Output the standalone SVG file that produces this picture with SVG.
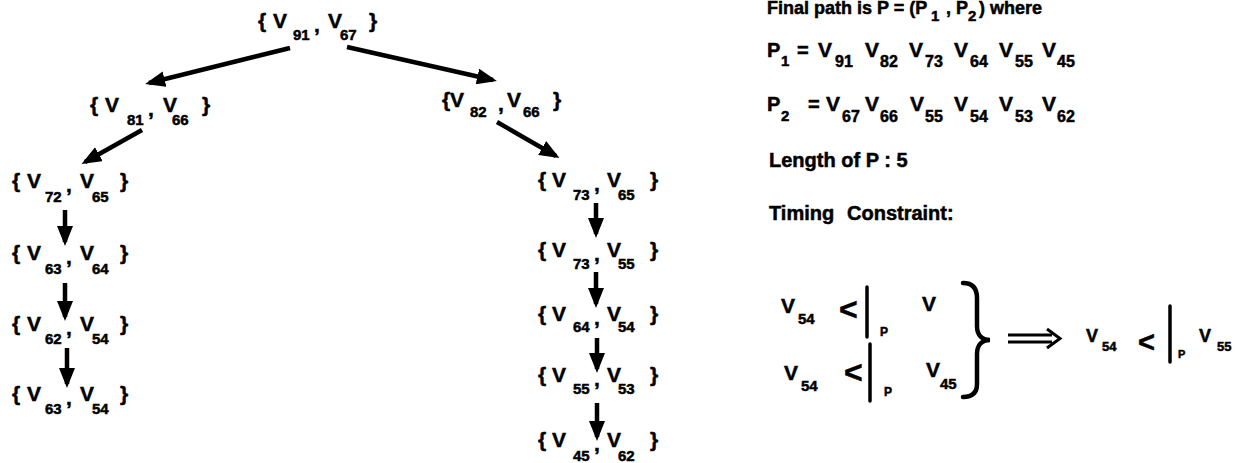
<svg xmlns="http://www.w3.org/2000/svg" width="1246" height="463" viewBox="0 0 1246 463">
<style>
text{font-family:"Liberation Sans",Arial,Helvetica,sans-serif;font-weight:bold;fill:#000;stroke:#000;stroke-width:0.5}
.m{font-size:21px}
.s{font-size:15px}
.r{font-size:20px}
.rs{font-size:16px}
.lt{font-size:32px}
.pp{font-size:12px}
.edge{stroke:#000;stroke-width:4.5;fill:none;marker-end:url(#ah)}
.bar{stroke:#000;stroke-width:3.5;stroke-linecap:round}
</style>
<defs>
<marker id="ah" markerUnits="userSpaceOnUse" markerWidth="20" markerHeight="16" refX="16" refY="8" orient="auto">
<path d="M0,0 L20,8 L0,16 z" fill="#000"/>
</marker>
</defs>
<rect width="1246" height="463" fill="#fff"/>
<g id="connectors">
<line class="edge" x1="290" y1="48" x2="149" y2="83"/>
<line class="edge" x1="347" y1="47" x2="493" y2="80"/>
<line class="edge" x1="142" y1="130" x2="85" y2="162"/>
<line class="edge" x1="497" y1="122" x2="556" y2="156"/>
<line class="edge" x1="65" y1="210" x2="65" y2="242"/>
<line class="edge" x1="65" y1="283" x2="65" y2="317"/>
<line class="edge" x1="67" y1="348" x2="67" y2="384"/>
<line class="edge" x1="596" y1="203" x2="596" y2="234"/>
<line class="edge" x1="596" y1="272" x2="596" y2="304"/>
<line class="edge" x1="597" y1="338" x2="597" y2="369"/>
<line class="edge" x1="597" y1="403" x2="597" y2="437"/>
</g>
<g id="n-91-67" transform="translate(258,28)">
<text class="m" x="0" y="0">{</text><text class="m" x="15" y="0">V</text><text class="s" x="35" y="12">91</text><text class="m" x="56" y="4">,</text><text class="m" x="70" y="0">V</text><text class="s" x="82" y="12">67</text><text class="m" x="111" y="0">}</text>
</g>
<g id="n-81-66" transform="translate(90,112)">
<text class="m" x="0" y="0">{</text><text class="m" x="15" y="0">V</text><text class="s" x="37" y="13">81</text><text class="m" x="58" y="4">,</text><text class="m" x="73" y="0">V</text><text class="s" x="82" y="13">66</text><text class="m" x="112" y="0">}</text>
</g>
<g id="n-82-66" transform="translate(442,107)">
<text class="m" x="0" y="0">{</text><text class="m" x="8" y="0">V</text><text class="s" x="28" y="10">82</text><text class="m" x="56" y="4">,</text><text class="m" x="65" y="0">V</text><text class="s" x="81" y="10">66</text><text class="m" x="111" y="0">}</text>
</g>
<g id="n-72-65" transform="translate(12,188)">
<text class="m" x="0" y="0">{</text><text class="m" x="15" y="0">V</text><text class="s" x="33" y="14">72</text><text class="m" x="54" y="4">,</text><text class="m" x="68" y="0">V</text><text class="s" x="80" y="14">65</text><text class="m" x="108" y="0">}</text>
</g>
<g id="n-63-64" transform="translate(12,260)">
<text class="m" x="0" y="0">{</text><text class="m" x="15" y="0">V</text><text class="s" x="33" y="14">63</text><text class="m" x="54" y="4">,</text><text class="m" x="68" y="0">V</text><text class="s" x="80" y="14">64</text><text class="m" x="108" y="0">}</text>
</g>
<g id="n-62-54" transform="translate(12,331)">
<text class="m" x="0" y="0">{</text><text class="m" x="15" y="0">V</text><text class="s" x="33" y="13">62</text><text class="m" x="54" y="4">,</text><text class="m" x="68" y="0">V</text><text class="s" x="80" y="13">54</text><text class="m" x="108" y="0">}</text>
</g>
<g id="n-63-54" transform="translate(12,401)">
<text class="m" x="0" y="0">{</text><text class="m" x="15" y="0">V</text><text class="s" x="33" y="13">63</text><text class="m" x="54" y="4">,</text><text class="m" x="68" y="0">V</text><text class="s" x="80" y="13">54</text><text class="m" x="108" y="0">}</text>
</g>
<g id="n-73-65" transform="translate(538,187)">
<text class="m" x="0" y="0">{</text><text class="m" x="14" y="0">V</text><text class="s" x="35" y="13">73</text><text class="m" x="56" y="4">,</text><text class="m" x="69" y="0">V</text><text class="s" x="80" y="13">65</text><text class="m" x="112" y="0">}</text>
</g>
<g id="n-73-55" transform="translate(538,257)">
<text class="m" x="0" y="0">{</text><text class="m" x="14" y="0">V</text><text class="s" x="35" y="12">73</text><text class="m" x="56" y="4">,</text><text class="m" x="69" y="0">V</text><text class="s" x="80" y="12">55</text><text class="m" x="112" y="0">}</text>
</g>
<g id="n-64-54" transform="translate(538,321)">
<text class="m" x="0" y="0">{</text><text class="m" x="14" y="0">V</text><text class="s" x="35" y="11">64</text><text class="m" x="56" y="4">,</text><text class="m" x="69" y="0">V</text><text class="s" x="80" y="11">54</text><text class="m" x="112" y="0">}</text>
</g>
<g id="n-55-53" transform="translate(538,382)">
<text class="m" x="0" y="0">{</text><text class="m" x="14" y="0">V</text><text class="s" x="35" y="12">55</text><text class="m" x="56" y="4">,</text><text class="m" x="69" y="0">V</text><text class="s" x="80" y="12">53</text><text class="m" x="112" y="0">}</text>
</g>
<g id="n-45-62" transform="translate(538,447)">
<text class="m" x="0" y="0">{</text><text class="m" x="14" y="0">V</text><text class="s" x="35" y="14">45</text><text class="m" x="56" y="4">,</text><text class="m" x="69" y="0">V</text><text class="s" x="80" y="14">62</text><text class="m" x="112" y="0">}</text>
</g>
<g id="info">
<text x="767" y="14" style="font-size:18px">Final path is P = (P</text><text class="s" x="931" y="21">1</text><text x="946" y="14" style="font-size:18px">, P</text><text class="s" x="968" y="21">2</text><text x="979" y="14" style="font-size:18px">) where</text>
<text class="r" x="767" y="57">P</text><text class="s" x="781" y="66">1</text><text class="r" x="797" y="57">=</text>
<text class="m" x="818" y="57">V</text><text class="rs" x="835" y="67">91</text>
<text class="m" x="865" y="57">V</text><text class="rs" x="880" y="67">82</text>
<text class="m" x="909" y="57">V</text><text class="rs" x="925" y="67">73</text>
<text class="m" x="954" y="57">V</text><text class="rs" x="970" y="67">64</text>
<text class="m" x="999" y="57">V</text><text class="rs" x="1015" y="67">55</text>
<text class="m" x="1042" y="57">V</text><text class="rs" x="1057" y="67">45</text>
<text class="r" x="767" y="111">P</text><text class="s" x="781" y="121">2</text><text class="r" x="808" y="111">=</text>
<text class="m" x="826" y="111">V</text><text class="rs" x="842" y="122">67</text>
<text class="m" x="865" y="111">V</text><text class="rs" x="880" y="122">66</text>
<text class="m" x="910" y="111">V</text><text class="rs" x="925" y="122">55</text>
<text class="m" x="954" y="111">V</text><text class="rs" x="970" y="122">54</text>
<text class="m" x="999" y="111">V</text><text class="rs" x="1015" y="122">53</text>
<text class="m" x="1042" y="111">V</text><text class="rs" x="1057" y="122">62</text>
<text class="r" x="769" y="167">Length of P : 5</text>
<text class="r" x="769" y="220">Timing</text><text class="r" x="847" y="220">Constraint:</text>
</g>
<g id="constraint">
<text class="m" x="781" y="313">V</text><text class="s" x="798" y="324">54</text>
<text class="lt" x="839" y="320">&lt;</text>
<line class="bar" x1="867" y1="287" x2="867" y2="337"/>
<text class="pp" x="880" y="336">P</text>
<text class="m" x="922" y="311">V</text>
<text class="m" x="784" y="380">V</text><text class="s" x="801" y="391">54</text>
<text class="lt" x="844" y="383">&lt;</text>
<line class="bar" x1="870" y1="344" x2="870" y2="401"/>
<text class="pp" x="884" y="396">P</text>
<text class="m" x="926" y="377">V</text><text class="s" x="940" y="389">45</text>
<path d="M963,283 C972,283 977,288 977,298 L977,326 C977,335 982,340 990,340 C982,340 977,345 977,354 L977,384 C977,393 972,397 963,397" fill="none" stroke="#000" stroke-width="4.5" stroke-linecap="round"/>
<path d="M1008,335 L1052,335 M1008,342 L1052,342" stroke="#000" stroke-width="3" fill="none"/>
<path d="M1047,329 L1060,338.5 L1047,348" stroke="#000" stroke-width="3" fill="none"/>
<text class="m" x="1086" y="342" style="font-size:18px">V</text><text class="s" x="1102" y="351" style="font-size:13px">54</text>
<text class="lt" x="1138" y="352" style="font-size:29px">&lt;</text>
<line class="bar" x1="1170" y1="306" x2="1170" y2="362"/>
<text class="pp" x="1178" y="358" style="font-size:11px">P</text>
<text class="m" x="1199" y="342" style="font-size:18px">V</text><text class="s" x="1217" y="351" style="font-size:13px">55</text>
</g>
</svg>
